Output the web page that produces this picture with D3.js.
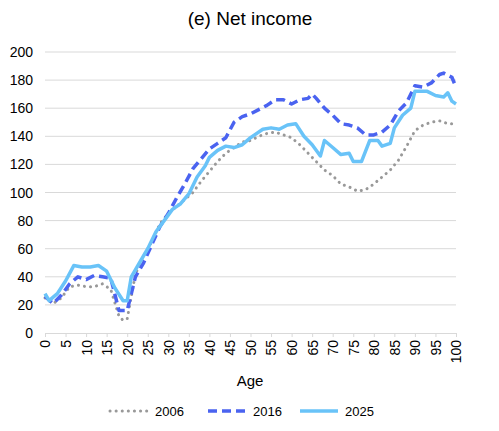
<!DOCTYPE html>
<html><head><meta charset="utf-8">
<script src="https://cdn.jsdelivr.net/npm/d3@7"></script>
<style>body{margin:0;background:#fff;font-family:Arial,"Liberation Sans",sans-serif;}</style>
</head><body>
<svg id="chart"></svg>
<script>
var ages2006 = [0,2,4,6,8,10,12,14,16,18,19,20,22,24,26,28,30,32,34,36,38,40,42,44,46,48,50,52,54,56,58,60,62,64,66,68,70,72,74,76,78,80,82,84,86,88,90,92,94,96,98,100];
var vals2006 = [25,21,25,33,34,33,33,35,31,12,9,10,42,55,65,78,85,90,95,100,108,115,122,128,132,136,137,140,142,143,141,139,134,128,122,116,112,106,104,101,102,106,111,116,123,133,144,148,150,151,149,149];

var ages2016 = [0,2,4,6,8,10,12,14,16,18,20,22,24,26,28,30,32,34,36,38,40,42,44,46,48,50,52,54,56,58,60,62,64,65,66,68,70,72,74,76,78,80,82,84,86,88,90,92,94,96,97,99,100];
var vals2016 = [26,21,27,35,40,38,41,40,39,16,16,40,50,63,76,85,96,106,117,124,131,135,139,150,154,156,159,162,166,166,163,166,167,170,167,160,155,149,148,146,141,141,143,148,158,164,176,175,178,184,185,182,175];

var ages2025 = [0,1,3,5,7,9,11,13,15,17,19,20,21,23,25,27,29,31,33,35,37,39,40,42,44,46,48,50,51,53,55,57,59,61,63,65,67,68,70,72,74,75,77,79,81,82,84,85,87,89,90,93,95,97,98,99,100];
var vals2025 = [28,23,28,37,48,47,47,48,44,32,23,23,40,50,60,72,80,88,92,99,111,119,125,130,133,132,134,139,141,145,146,145,148,149,140,134,126,137,132,127,128,122,122,137,137,133,135,146,155,160,172,172,169,168,171,165,163];

var yTicks = [0,20,40,60,80,100,120,140,160,180,200];
var xTicks = d3.range(0, 101, 5);

var W = 499, H = 431;
var plotLeft = 45, plotRight = 456, plotTop = 52, plotBottom = 333;

var svg = d3.select('#chart').attr('width', W).attr('height', H);

var x = d3.scaleLinear().domain([0, 100]).range([plotLeft, plotRight]);
var y = d3.scaleLinear().domain([0, 200]).range([plotBottom, plotTop]);

svg.append('text').attr('x', 250).attr('y', 25).attr('text-anchor', 'middle')
  .attr('font-size', 19).attr('fill', '#000').text('(e) Net income');

// grid
svg.append('g').selectAll('line').data(yTicks.slice(1)).enter().append('line')
  .attr('x1', plotLeft).attr('x2', plotRight)
  .attr('y1', function(d) { return y(d); }).attr('y2', function(d) { return y(d); })
  .attr('stroke', '#d9d9d9').attr('stroke-width', 1);

// y axis labels
svg.append('g').selectAll('text').data(yTicks).enter().append('text')
  .attr('x', 33).attr('y', function(d) { return y(d) + 5; })
  .attr('text-anchor', 'end').attr('font-size', 14).attr('fill', '#000')
  .text(function(d) { return d; });

// x axis
var xAxis = d3.axisBottom(x).tickValues(xTicks).tickSize(4).tickFormat(d3.format('d'));
var gx = svg.append('g').attr('transform', 'translate(0,' + plotBottom + ')').call(xAxis);
gx.select('.domain').attr('stroke', '#d9d9d9');
gx.selectAll('.tick line').attr('stroke', '#d9d9d9');
gx.selectAll('text').attr('font-size', 14).attr('fill', '#000')
  .attr('font-family', 'Arial, Liberation Sans, sans-serif')
  .attr('transform', 'rotate(-90)').attr('text-anchor', 'end')
  .attr('x', -7).attr('y', 0).attr('dy', '0.35em');

svg.append('text').attr('x', 250).attr('y', 386).attr('text-anchor', 'middle')
  .attr('font-size', 15).attr('fill', '#000').text('Age');

var line = d3.line().x(function(d) { return x(d[0]); }).y(function(d) { return y(d[1]); });

var series = [
  {name: '2006', ages: ages2006, vals: vals2006, color: '#999999', width: 3, dash: '0.1 6', cap: 'round'},
  {name: '2016', ages: ages2016, vals: vals2016, color: '#4a63f0', width: 3.5, dash: '9 5', cap: 'butt'},
  {name: '2025', ages: ages2025, vals: vals2025, color: '#69c3f8', width: 3.5, dash: null, cap: 'butt'}
];

series.forEach(function(s) {
  var pts = s.ages.map(function(a, i) { return [a, s.vals[i]]; });
  svg.append('path').datum(pts).attr('d', line)
    .attr('fill', 'none').attr('stroke', s.color).attr('stroke-width', s.width)
    .attr('stroke-dasharray', s.dash).attr('stroke-linecap', s.cap)
    .attr('stroke-linejoin', 'round');
});

// legend
var lx = [110, 208, 300];
series.forEach(function(s, i) {
  var g = svg.append('g').attr('transform', 'translate(' + lx[i] + ',411)');
  g.append('line').attr('x1', 0).attr('x2', 38).attr('y1', 0).attr('y2', 0)
    .attr('stroke', s.color).attr('stroke-width', s.width)
    .attr('stroke-dasharray', s.dash).attr('stroke-linecap', s.cap);
  g.append('text').attr('x', 45).attr('y', 5).attr('font-size', 13).attr('fill', '#000').text(s.name);
});
</script>
</body></html>
